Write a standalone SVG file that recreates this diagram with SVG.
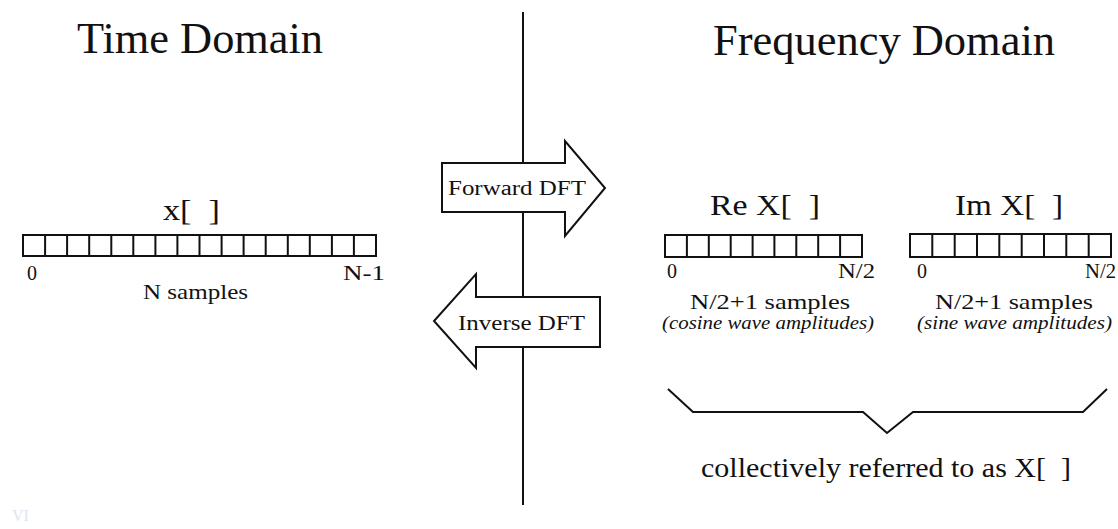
<svg xmlns="http://www.w3.org/2000/svg" width="1118" height="529" viewBox="0 0 1118 529">
<style>
text{font-family:"Liberation Serif","Times New Roman",Times,serif;fill:#111;white-space:pre}
.title{font-size:44px}
.lbl{font-size:30px}
.idx{font-size:20px}
.cap{font-size:21px}
.it{font-size:18px;font-style:italic}
.box{fill:#fff;stroke:#111;stroke-width:2}
.cell{stroke:#111;stroke-width:2;fill:none}
.ln{stroke:#111;stroke-width:2;fill:none}
</style>
<rect width="1118" height="529" fill="#fff"/>
<g id="connectors">
<line class="ln" x1="523" y1="12" x2="523" y2="505"/>
<polyline id="brace" class="ln" points="668,389 693,412 863,412 887,433 913,412 1083,412 1107,389"/>
</g>
<g id="time-title"><text class="title" x="77" y="53" textLength="246" lengthAdjust="spacingAndGlyphs">Time Domain</text></g>
<g id="freq-title"><text class="title" x="713" y="55" textLength="342" lengthAdjust="spacingAndGlyphs">Frequency Domain</text></g>
<g id="time-array">
<text class="lbl" x="163" y="220" textLength="57" lengthAdjust="spacingAndGlyphs">x[  ]</text>
<rect class="box" x="23" y="235" width="353" height="21"/>
<path class="cell" d="M45.1,235v21M67.1,235v21M89.2,235v21M111.3,235v21M133.3,235v21M155.4,235v21M177.4,235v21M199.5,235v21M221.6,235v21M243.6,235v21M265.7,235v21M287.8,235v21M309.8,235v21M331.9,235v21M353.9,235v21"/>
<text class="idx" x="27" y="280">0</text>
<text class="idx" x="385" y="280" text-anchor="end" textLength="42" lengthAdjust="spacingAndGlyphs">N-1</text>
<text class="cap" x="143" y="299" textLength="105" lengthAdjust="spacingAndGlyphs">N samples</text>
</g>
<g id="forward-dft">
<polygon class="box" points="442,163 565,163 565,141 605,188 565,236 565,212 442,212"/>
<text class="idx" x="448" y="195" textLength="138" lengthAdjust="spacingAndGlyphs">Forward DFT</text>
</g>
<g id="inverse-dft">
<polygon class="box" points="600,297 476,297 476,274 434,321 476,368 476,347 600,347"/>
<text class="idx" x="458" y="330" textLength="127" lengthAdjust="spacingAndGlyphs">Inverse DFT</text>
</g>
<g id="re-array">
<text class="lbl" x="710" y="215" textLength="110" lengthAdjust="spacingAndGlyphs">Re X[  ]</text>
<rect class="box" x="665" y="235" width="197" height="22"/>
<path class="cell" d="M686.9,235v22M708.8,235v22M730.7,235v22M752.6,235v22M774.4,235v22M796.3,235v22M818.2,235v22M840.1,235v22"/>
<text class="idx" x="667" y="278">0</text>
<text class="idx" x="875" y="278" text-anchor="end" textLength="37" lengthAdjust="spacingAndGlyphs">N/2</text>
<text class="cap" x="690" y="309" textLength="160" lengthAdjust="spacingAndGlyphs">N/2+1 samples</text>
<text class="it" x="662" y="329" textLength="212" lengthAdjust="spacingAndGlyphs">(cosine wave amplitudes)</text>
</g>
<g id="im-array">
<text class="lbl" x="955" y="215" textLength="108" lengthAdjust="spacingAndGlyphs">Im X[  ]</text>
<rect class="box" x="910" y="234" width="201" height="23"/>
<path class="cell" d="M932.3,234v23M954.7,234v23M977,234v23M999.3,234v23M1021.7,234v23M1044,234v23M1066.3,234v23M1088.7,234v23"/>
<text class="idx" x="917" y="278">0</text>
<text class="idx" x="1116" y="278" text-anchor="end" textLength="31" lengthAdjust="spacingAndGlyphs">N/2</text>
<text class="cap" x="935" y="309" textLength="158" lengthAdjust="spacingAndGlyphs">N/2+1 samples</text>
<text class="it" x="917" y="329" textLength="195" lengthAdjust="spacingAndGlyphs">(sine wave amplitudes)</text>
</g>
<g id="collective-label">
<text x="701" y="477" style="font-size:28px" textLength="370" lengthAdjust="spacingAndGlyphs">collectively referred to as X[  ]</text>
</g>
<g id="mark"><text x="12" y="521" style="font-size:16px;fill:#dfe4f1">VI</text></g>
</svg>
